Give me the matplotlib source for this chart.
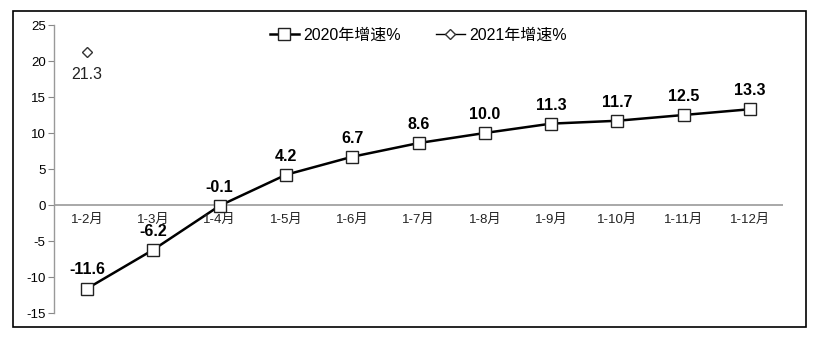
import matplotlib
matplotlib.use("Agg")
import matplotlib.pyplot as plt
from matplotlib.patches import Rectangle

plt.rcParams['font.family'] = ['Liberation Sans', 'Noto Sans CJK SC', 'DejaVu Sans']

categories = ["1-2月", "1-3月", "1-4月", "1-5月", "1-6月", "1-7月", "1-8月", "1-9月", "1-10月", "1-11月", "1-12月"]
growth_2020 = [-11.6, -6.2, -0.1, 4.2, 6.7, 8.6, 10.0, 11.3, 11.7, 12.5, 13.3]
growth_2021 = [21.3]
labels_2020 = ["-11.6", "-6.2", "-0.1", "4.2", "6.7", "8.6", "10.0", "11.3", "11.7", "12.5", "13.3"]
labels_2021 = ["21.3"]
yticks = [-15, -10, -5, 0, 5, 10, 15, 20, 25]

W, H = 817, 337
fig = plt.figure(figsize=(W / 100, H / 100), dpi=100)
fig.patches.append(Rectangle((13 / W, 1 - 326.5 / H), (806 - 13) / W, (326.5 - 10.5) / H,
                             transform=fig.transFigure, fill=False, edgecolor='black', linewidth=1.2))
ax = fig.add_axes([54 / W, 1 - 313 / H, (783 - 54) / W, (313 - 25) / H])

x = list(range(len(categories)))
ax.plot(x, growth_2020, color='black', linewidth=1.8, marker='s', markersize=8,
        markerfacecolor='white', markeredgecolor='#222222', markeredgewidth=1.0,
        label="2020年增速%", zorder=3)
ax.plot(x[:len(growth_2021)], growth_2021, color='black', linewidth=1.0, marker='D', markersize=5,
        markerfacecolor='white', markeredgecolor='#333333', markeredgewidth=1.0,
        label="2021年增速%", zorder=3)

for xi, v, t in zip(x, growth_2020, labels_2020):
    ax.annotate(t, (xi, v), xytext=(0, 8), textcoords='offset points', ha='center', va='bottom',
                fontsize=11.5, fontweight='bold', color='black')
for xi, v, t in zip(x, growth_2021, labels_2021):
    ax.annotate(t, (xi, v), xytext=(0, -11), textcoords='offset points', ha='center', va='top',
                fontsize=11.5, color='#222222')

ax.set_xlim(-0.5, len(categories) - 0.5)
ax.set_ylim(-15, 25)
ax.set_yticks(yticks)
ax.set_yticklabels([str(v) for v in yticks], fontsize=9.5)
ax.tick_params(axis='y', direction='out', length=4, color='#888888', pad=2)

ax.set_xticks([])
for i, c in enumerate(categories):
    ax.text(i, -1.2, c, ha='center', va='top', fontsize=9.5, color='#222222')

ax.axhline(0, color='#999999', linewidth=1.2, zorder=1)
for s in ['top', 'right', 'bottom']:
    ax.spines[s].set_visible(False)
ax.spines['left'].set_color('#999999')
ax.spines['left'].set_linewidth(1.0)

leg = ax.legend(loc='upper center', bbox_to_anchor=(0.5, 1.04), ncol=2, frameon=False,
                fontsize=11.5, handlelength=1.8, handletextpad=0.3, columnspacing=2.2)

fig.savefig("out.png", dpi=100)
